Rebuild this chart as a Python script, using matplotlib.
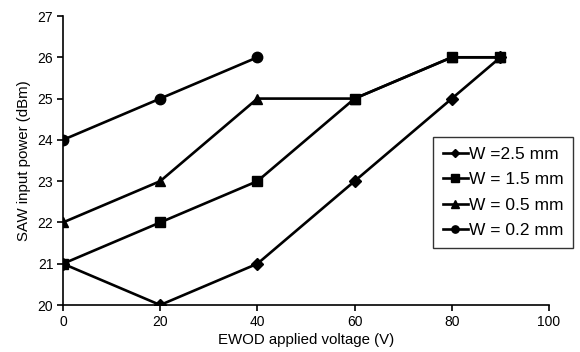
import matplotlib
matplotlib.use('Agg')
import matplotlib.pyplot as plt

# Dados
voltage = [0, 20, 40, 60, 80, 90]
voltage_02 = [0, 20, 40]
power_25 = [21, 20, 21, 23, 25, 26]
power_15 = [21, 22, 23, 25, 26, 26]
power_05 = [22, 23, 25, 25, 26, 26]
power_02 = [24, 25, 26]
labels = ['W =2.5 mm', 'W = 1.5 mm', 'W = 0.5 mm', 'W = 0.2 mm']

plt.rcParams['font.family'] = ['Liberation Sans', 'DejaVu Sans']
plt.rcParams['font.size'] = 10

fig = plt.figure(figsize=(5.8, 3.52), dpi=100)
ax = fig.add_axes([0.1086, 0.1335, 0.838, 0.821])

kw = dict(color='black', linewidth=1.9, markersize=7.5)
ax.plot(voltage, power_25, marker='D', label=labels[0], **dict(kw, markersize=6.5))
ax.plot(voltage, power_15, marker='s', label=labels[1], **kw)
ax.plot(voltage, power_05, marker='^', label=labels[2], **kw)
ax.plot(voltage_02, power_02, marker='o', label=labels[3], **kw)

ax.set_xlim(0, 100)
ax.set_ylim(20, 27)
ax.set_xticks(range(0, 101, 20))
ax.set_yticks(range(20, 28))
ax.spines['top'].set_visible(False)
ax.spines['right'].set_visible(False)
ax.spines['left'].set_linewidth(1.2)
ax.spines['bottom'].set_linewidth(1.2)
ax.tick_params(direction='out', length=4, width=1.2, pad=3)

ax.set_xlabel('EWOD applied voltage (V)', fontsize=10.8, labelpad=3)
ax.set_ylabel('SAW input power (dBm)', fontsize=10.8, labelpad=5)

leg = ax.legend(loc='upper left', bbox_to_anchor=(433 / 580, 1 - 137 / 352),
                bbox_transform=fig.transFigure, frameon=True, fancybox=False,
                edgecolor='black', handlelength=1.45, handletextpad=0.05,
                labelspacing=0.6, borderpad=0.55, borderaxespad=0,
                fontsize=12.5, markerscale=0.7)
leg.get_frame().set_linewidth(1.0)

fig.savefig('out.png', dpi=100)
